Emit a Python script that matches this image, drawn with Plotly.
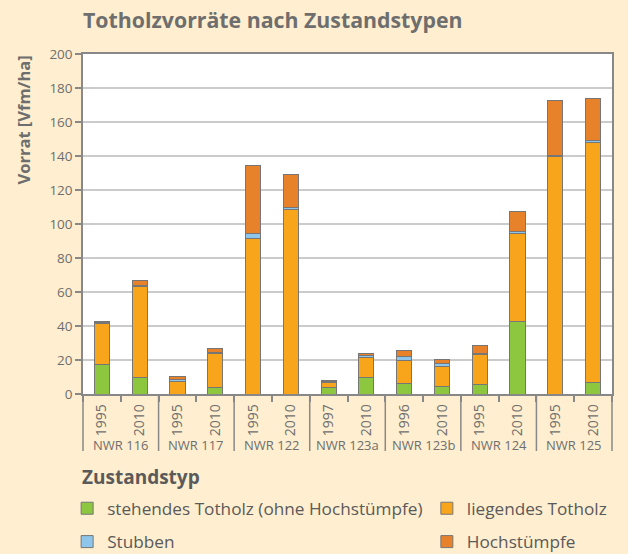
import plotly.graph_objects as go

groups = ["NWR 116", "NWR 116", "NWR 117", "NWR 117", "NWR 122", "NWR 122",
          "NWR 123a", "NWR 123a", "NWR 123b", "NWR 123b", "NWR 124", "NWR 124",
          "NWR 125", "NWR 125"]
years = ["1995", "2010", "1995", "2010", "1995", "2010", "1997", "2010",
         "1996", "2010", "1995", "2010", "1995", "2010"]

stehend = [17.1, 10.0, 0, 3.9, 0, 0, 3.9, 9.6, 5.9, 4.7, 5.7, 42.5, 0, 6.7]
liegend = [24.1, 53.3, 7.5, 20.0, 91.5, 108.6, 3.1, 12.0, 13.9, 11.6, 17.8, 52.0, 140.0, 141.1]
stubben = [0.6, 0.7, 1.0, 0.8, 3.0, 1.2, 0.3, 0.8, 2.4, 1.7, 0.5, 0.8, 0.3, 1.6]
hochstuempfe = [1.1, 2.5, 1.9, 2.2, 40.0, 19.2, 0.9, 1.5, 3.5, 2.2, 4.6, 12.3, 32.6, 24.3]

series = [
    ("stehendes Totholz (ohne Hochstümpfe)", stehend, "#8DC63F", "legend", "g1"),
    ("liegendes Totholz", liegend, "#F8A51B", "legend2", "g2"),
    ("Stubben", stubben, "#8EC5EA", "legend", "g3"),
    ("Hochstümpfe", hochstuempfe, "#E8822A", "legend2", "g4"),
]

FONT = "Open Sans"
GRAY = "#6e6e6e"
DARK = "#5a5a5a"
BG = "#FFEECF"
AXC = "#888888"

keys = [f"{g} | {y}" for g, y in zip(groups, years)]
n = len(keys)

fig = go.Figure()
for name, vals, col, leg, grp in series:
    fig.add_trace(go.Bar(
        x=keys, y=vals, name=name,
        marker=dict(color=col, line=dict(color="#767676", width=1)),
        legend=leg, legendgroup=grp,
    ))

legend_common = dict(
    xanchor="left", y=-0.284, yanchor="top",
    orientation="v", bgcolor="rgba(0,0,0,0)",
    font=dict(size=17.2, color=DARK, family=FONT),
    tracegroupgap=8, traceorder="grouped",
)

fig.update_layout(
    width=628, height=554,
    barmode="stack", bargap=0.6,
    paper_bgcolor=BG, plot_bgcolor="white",
    margin=dict(l=83, r=16, t=54, b=160, autoexpand=False),
    font=dict(family=FONT, color=GRAY, size=13),
    title=dict(text="<b>Totholzvorräte nach Zustandstypen</b>", x=83 / 628, xanchor="left",
               y=1 - 21 / 554, yanchor="middle", font=dict(size=21.3, color=GRAY, family=FONT)),
    showlegend=True,
    legend=dict(x=-0.03, **legend_common),
    legend2=dict(x=0.650, **legend_common),
)

fig.update_yaxes(
    range=[0, 200], dtick=20, showgrid=True, gridcolor="#cbcbcb", gridwidth=1.5,
    showline=True, linecolor=AXC, linewidth=1.5, mirror=True,
    ticks="outside", ticklen=6, tickcolor=AXC, tickwidth=1.5,
    tickfont=dict(size=13.5, color=GRAY), zeroline=False,
)
fig.update_xaxes(
    type="category", range=[-0.5, n - 0.5],
    tickmode="array", tickvals=keys, ticktext=years,
    showline=True, linecolor=AXC, linewidth=1.5, mirror=True,
    ticks="outside", tickson="boundaries", ticklen=6, tickcolor=AXC, tickwidth=1.5,
    tickangle=-90, tickfont=dict(size=14, color=GRAY), ticklabelstandoff=3,
)

# group labels and dividers derived from the category positions
group_names = list(dict.fromkeys(groups))
for gname in group_names:
    idx = [i for i, g in enumerate(groups) if g == gname]
    fig.add_annotation(
        text=gname, xref="x", yref="paper", x=sum(idx) / len(idx),
        y=(394 - 445) / 340, yanchor="middle", xanchor="center", showarrow=False,
        font=dict(size=13, color=GRAY, family=FONT),
    )
boundaries = [0] + [i for i in range(1, n) if groups[i] != groups[i - 1]] + [n]
for b in boundaries:
    fig.add_shape(
        type="line", xref="x domain", yref="paper", x0=b / n, x1=b / n,
        y0=0, y1=(394 - 451) / 340, line=dict(color=AXC, width=1.5),
    )

fig.add_annotation(
    text="<b>Vorrat [Vfm/ha]</b>", textangle=-90, xref="paper", yref="paper",
    x=(23 - 83) / 529, xanchor="center", y=1.0, yanchor="top", showarrow=False,
    font=dict(size=16.5, color=GRAY, family=FONT),
)
fig.add_annotation(
    text="<b>Zustandstyp</b>", xref="paper", yref="paper",
    x=(80 - 83) / 529, xanchor="left", y=(394 - 477) / 340, yanchor="middle",
    showarrow=False, font=dict(size=19, color=DARK, family=FONT),
)

fig.write_html("out.html", config={"displayModeBar": False},
               post_script="document.body.style.margin='0';document.body.style.padding='0';")
